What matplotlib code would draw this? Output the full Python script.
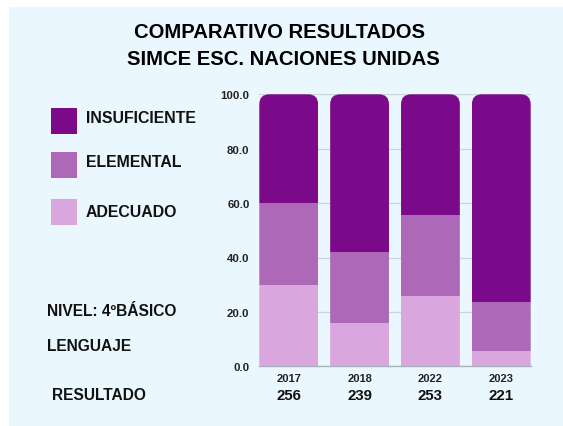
import matplotlib
matplotlib.use("Agg")
import matplotlib.pyplot as plt
from matplotlib.patches import FancyBboxPatch, Rectangle
import numpy as np

plt.rcParams['font.family'] = ['Liberation Sans', 'DejaVu Sans']

years = ["2017", "2018", "2022", "2023"]
results = ["256", "239", "253", "221"]
adecuado = [30.0, 16.0, 26.0, 5.6]
elemental = [30.0, 26.0, 29.5, 17.9]
insuficiente = [40.0, 58.0, 44.5, 76.5]
legend_labels = ["INSUFICIENTE", "ELEMENTAL", "ADECUADO"]
yticks = [0, 20, 40, 60, 80, 100]

c_ins = "#7B0A8B"
c_ele = "#AD69B8"
c_ade = "#D9A6E0"
bg = "#EBF7FE"

W, H = 563, 427
fig = plt.figure(figsize=(W/100, H/100), dpi=100)
fig.patch.set_facecolor("white")
fig.add_artist(Rectangle((9/W, 0), 1, 1 - 8/H, transform=fig.transFigure,
                         facecolor=bg, edgecolor="none", zorder=-10))

ax = fig.add_axes([259.3/W, 1 - 367.3/H, 271.4/W, 272/H])
ax.set_facecolor("none")
x = np.arange(len(years))
w = 0.83
b1 = ax.bar(x, adecuado, w, color=c_ade, zorder=3)
b2 = ax.bar(x, elemental, w, bottom=adecuado, color=c_ele, zorder=3)
bot3 = [a + e for a, e in zip(adecuado, elemental)]
b3 = ax.bar(x, insuficiente, w, bottom=bot3, color=c_ins, zorder=3)

ax.set_xlim(-w/2, len(years) - 1 + w/2)
ax.set_ylim(0, 100)

# rounded top corners via clip paths
px_x = 271.4 / (len(years) - 1 + w)
px_y = 272 / 100
aspect = px_x / px_y
r = 10 / px_x
for i in range(len(years)):
    clip = FancyBboxPatch((x[i] - w/2, -60), w, 160,
                          boxstyle=f"round,pad=0,rounding_size={r}",
                          mutation_aspect=aspect, transform=ax.transData)
    for bars in (b1, b2, b3):
        bars[i].set_clip_path(clip)

ax.set_yticks(yticks)
ax.set_yticklabels([f"{v:.1f}" for v in yticks], fontsize=8.2, fontweight="bold", color="#222222")
ax.tick_params(axis="y", length=0, pad=7)
ax.set_xticks(x)
ax.set_xticklabels(years, fontsize=8, fontweight="bold", color="#222222")
ax.tick_params(axis="x", length=0, pad=5)
ax.grid(axis="y", color="#C9D5DD", linewidth=0.9, zorder=0)
for s in ["top", "right", "left"]:
    ax.spines[s].set_visible(False)
ax.spines["bottom"].set_color("#A8B0B8")
ax.spines["bottom"].set_linewidth(1.0)

# results below years
for i, rv in enumerate(results):
    ax.text(x[i], -10.4, rv, ha="center", va="center", fontsize=10.8,
            fontweight="bold", color="#111111", clip_on=False)

def ftext(px, py, s, **kw):
    fig.text(px/W, 1 - py/H, s, **kw)

ftext(280, 32, "COMPARATIVO RESULTADOS", ha="center", va="center", fontsize=14.6, fontweight="bold")
ftext(283, 60, "SIMCE ESC. NACIONES UNIDAS", ha="center", va="center", fontsize=14.6, fontweight="bold")

cols = [c_ins, c_ele, c_ade]
tops = [109, 153, 200]
text_y = [118.3, 162.7, 212.3]
for lab, c, t, ty in zip(legend_labels, cols, tops, text_y):
    fig.add_artist(Rectangle((51/W, 1 - (t + 25.5)/H), 25.7/W, 25.5/H,
                             transform=fig.transFigure, facecolor=c, edgecolor="none"))
    ftext(86, ty, lab, ha="left", va="center", fontsize=11.4, fontweight="bold", color="#111111")

ftext(46.7, 311.7, "NIVEL: 4ºBÁSICO", ha="left", va="center", fontsize=11.2, fontweight="bold", color="#111111")
ftext(46.7, 346.7, "LENGUAJE", ha="left", va="center", fontsize=11.2, fontweight="bold", color="#111111")
ftext(51.7, 396, "RESULTADO", ha="left", va="center", fontsize=11.2, fontweight="bold", color="#111111")

fig.savefig("out.png", dpi=100)
